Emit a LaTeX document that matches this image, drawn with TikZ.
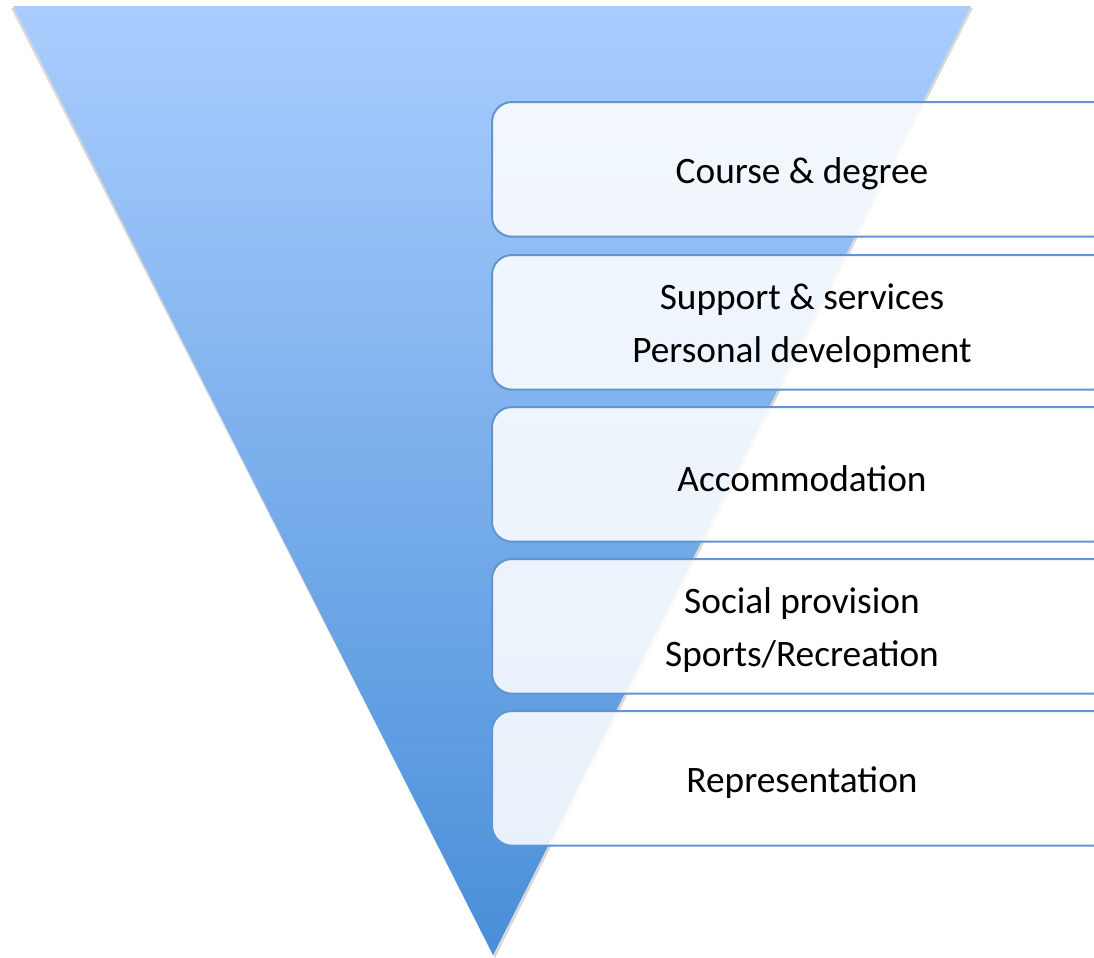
\documentclass[tikz,border=0pt]{standalone}
\usepackage{fontspec}
\setmainfont{Carlito}
\definecolor{tritop}{RGB}{170,205,254}
\definecolor{tribot}{RGB}{72,143,216}
\definecolor{boxline}{RGB}{98,148,208}
\tikzset{
  stage/.style={draw=boxline, line width=1.5pt, fill=white, fill opacity=0.87, text opacity=1,
    rounded corners=15pt, minimum width=465pt, minimum height=101pt, anchor=north west,
    inner sep=0pt, align=center, font=\fontsize{28}{40}\selectfont, text=black},
  stagetext/.style={anchor=center, align=center, inner sep=0pt,
    font=\fontsize{28}{40}\selectfont, text=black},
}
\begin{document}
\begin{tikzpicture}[x=0.75pt,y=-0.75pt]
\useasboundingbox (0,0) rectangle (1094,957);
\clip (0,0) rectangle (1094,957);
% shadow of funnel
\fill[black!30, opacity=0.5] (11,8) -- (973,8) -- (495,958) -- cycle;
\shade[top color=tritop, bottom color=tribot] (13,6) -- (971,6) -- (493,955) -- cycle;
\node[stage] (s1) at (491,101) {};
\node[stage] (s2) at (491,254) {};
\node[stage] (s3) at (491,406) {};
\node[stage] (s4) at (491,558) {};
\node[stage] (s5) at (491,710) {};
\node[stagetext] (t1) at ([yshift=-3pt]s1.center) {Course \& degree};
\node[stagetext] (t2) at ([yshift=-3pt]s2.center) {Support \& services\\Personal development};
\node[stagetext] (t3) at ([yshift=-3pt]s3.center) {Accommodation};
\node[stagetext] (t4) at ([yshift=-3pt]s4.center) {Social provision\\Sports/Recreation};
\node[stagetext] (t5) at ([yshift=-3pt]s5.center) {Representation};
\end{tikzpicture}
\end{document}
